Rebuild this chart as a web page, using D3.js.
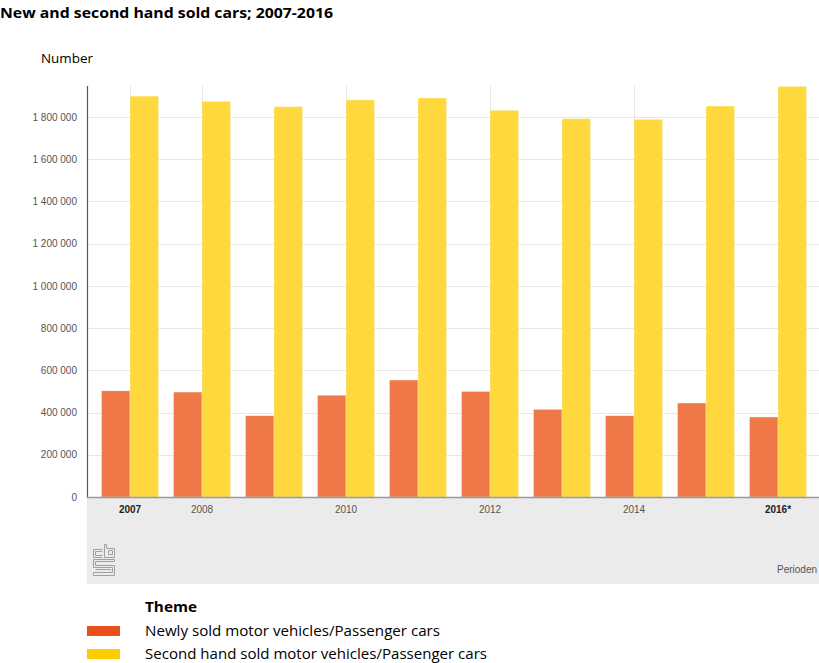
<!DOCTYPE html>
<html><head><meta charset="utf-8">
<script src="https://cdn.jsdelivr.net/npm/d3@7"></script>
<style>body{margin:0;background:#fff}svg{display:block}</style>
</head><body>
<script>
const years = ["2007","2008","2009","2010","2011","2012","2013","2014","2015","2016"];
const yearLabels = {"2007":"2007","2008":"2008","2010":"2010","2012":"2012","2014":"2014","2016":"2016*"};
const boldYears = ["2007","2016"];
const seriesNames = ["Newly sold motor vehicles/Passenger cars","Second hand sold motor vehicles/Passenger cars"];
const newlySold = [503000,497000,385000,482000,554000,500000,415000,385000,445000,379000];
const secondHand = [1899000,1874000,1849000,1881000,1890000,1832000,1792000,1789000,1852000,1945000];
const yTicks = [0,200000,400000,600000,800000,1000000,1200000,1400000,1600000,1800000];
const barColors = ["#ee7846","#fed83d"];
const legendColors = ["#e94f1b","#ffcc00"];

const W=819,H=663;
const svg=d3.select("body").append("svg").attr("width",W).attr("height",H);
const sansFont = "'Open Sans', Lato, sans-serif";

svg.append("text").attr("x",0).attr("y",18).text("New and second hand sold cars; 2007-2016")
  .attr("font-family",sansFont).attr("font-weight","bold").attr("font-size",14.5).attr("fill","#000")
  .attr("textLength",333).attr("lengthAdjust","spacingAndGlyphs");
svg.append("text").attr("x",41).attr("y",63).text("Number")
  .attr("font-family",sansFont).attr("font-size",13).attr("fill","#000")
  .attr("textLength",52).attr("lengthAdjust","spacingAndGlyphs");

const plotL=87, plotR=819, y0=497, yTop=86;
const x = d3.scaleBand().domain(years).range([94,814]).padding(0);
const xi = d3.scaleBand().domain([0,1]).range([7.5,x.bandwidth()-7.5]).padding(0);
const y = d3.scaleLinear().domain([0,1947000]).range([y0,yTop]);

// gray footer
svg.append("rect").attr("x",plotL).attr("y",y0).attr("width",W-plotL).attr("height",584-y0).attr("fill","#ebebeb");

// horizontal grid
svg.append("g").selectAll("line").data(yTicks.filter(d=>d>0)).join("line")
  .attr("x1",plotL).attr("x2",plotR).attr("y1",d=>Math.round(y(d))+0.5).attr("y2",d=>Math.round(y(d))+0.5)
  .attr("stroke","#e6e6e6").attr("stroke-width",1);
// vertical grid
svg.append("g").selectAll("line").data(Object.keys(yearLabels)).join("line")
  .attr("x1",d=>Math.round(x(d)+x.bandwidth()/2)+0.5).attr("x2",d=>Math.round(x(d)+x.bandwidth()/2)+0.5)
  .attr("y1",yTop).attr("y2",y0).attr("stroke","#e6e6e6");

// bars
const data = years.map((yr,i)=>({yr, vals:[newlySold[i],secondHand[i]]}));
const g = svg.append("g").selectAll("g").data(data).join("g").attr("transform",d=>`translate(${x(d.yr)},0)`);
g.selectAll("rect").data(d=>d.vals.map((v,k)=>({v,k}))).join("rect")
  .attr("x",d=>xi(d.k)).attr("width",xi.bandwidth())
  .attr("y",d=>y(d.v)).attr("height",d=>y0-y(d.v))
  .attr("fill",d=>barColors[d.k]).attr("stroke","#fff").attr("stroke-opacity",0.4).attr("stroke-width",0.8);

// y axis
const yAxis = d3.axisLeft(y).tickValues(yTicks).tickSize(0).tickPadding(10)
  .tickFormat(d=>d3.format(",")(d).replace(/,/g," "));
const ya = svg.append("g").attr("transform",`translate(${plotL},0)`).call(yAxis);
ya.select(".domain").remove();
ya.selectAll("text").attr("font-family","Arial, 'Liberation Sans', sans-serif").attr("font-size",10).attr("fill","#555");
svg.append("line").attr("x1",plotL+0.5).attr("x2",plotL+0.5).attr("y1",yTop).attr("y2",y0).attr("stroke","#555").attr("stroke-width",1.2);
svg.append("line").attr("x1",plotL).attr("x2",W).attr("y1",y0+0.5).attr("y2",y0+0.5).attr("stroke","#999").attr("stroke-width",1.5);

// x axis
const xAxis = d3.axisBottom(x).tickValues(Object.keys(yearLabels)).tickSize(0).tickPadding(9).tickFormat(d=>yearLabels[d]);
const xa = svg.append("g").attr("transform",`translate(0,${y0})`).call(xAxis);
xa.select(".domain").remove();
xa.selectAll("text").attr("font-family","Arial, 'Liberation Sans', sans-serif").attr("font-size",10)
  .attr("fill",d=>boldYears.includes(d)?"#222":"#555").attr("font-weight",d=>boldYears.includes(d)?"bold":"normal");

svg.append("text").attr("x",777).attr("y",573).text("Perioden")
  .attr("font-family","Arial, 'Liberation Sans', sans-serif").attr("font-size",10).attr("fill","#555");

// cbs logo
const lg = svg.append("g").attr("fill","none").attr("stroke","#a0a0a0").attr("stroke-width",1);
lg.append("path").attr("d","M102.5,549.5 L93.5,549.5 L93.5,557.5 L102.5,557.5 M102.5,551.5 L95.5,551.5 L95.5,555.5 L102.5,555.5");
lg.append("path").attr("d","M104.5,544.5 L104.5,557.5 L114.5,557.5 L114.5,548.5 L106.5,548.5 L106.5,544.5 Z M108.5,550.5 L112.5,550.5 L112.5,554.5 L108.5,554.5 Z");
lg.append("path").attr("d","M114.5,559.5 L93.5,559.5 L93.5,567.5 L112.5,567.5 L112.5,572.5 L93.5,572.5 L93.5,575.5 L114.5,575.5 L114.5,565.5 L95.5,565.5 L95.5,561.5 L114.5,561.5 Z M95.5,569.5 L110.5,569.5 L110.5,570.5");
// legend
svg.append("text").attr("x",145).attr("y",612).text("Theme")
  .attr("font-family",sansFont).attr("font-weight","bold").attr("font-size",14.5).attr("fill","#000")
  .attr("textLength",52).attr("lengthAdjust","spacingAndGlyphs");
const legendW=[295,342];
const leg = svg.append("g").selectAll("g").data(seriesNames).join("g").attr("transform",(d,i)=>`translate(0,${626+i*23})`);
leg.append("rect").attr("x",87).attr("y",0).attr("width",33).attr("height",10).attr("fill",(d,i)=>legendColors[i]);
leg.append("text").attr("x",145).attr("y",10).text(d=>d)
  .attr("font-family",sansFont).attr("font-size",14).attr("fill","#000")
  .attr("textLength",(d,i)=>legendW[i]).attr("lengthAdjust","spacingAndGlyphs");
</script>
</body></html>
